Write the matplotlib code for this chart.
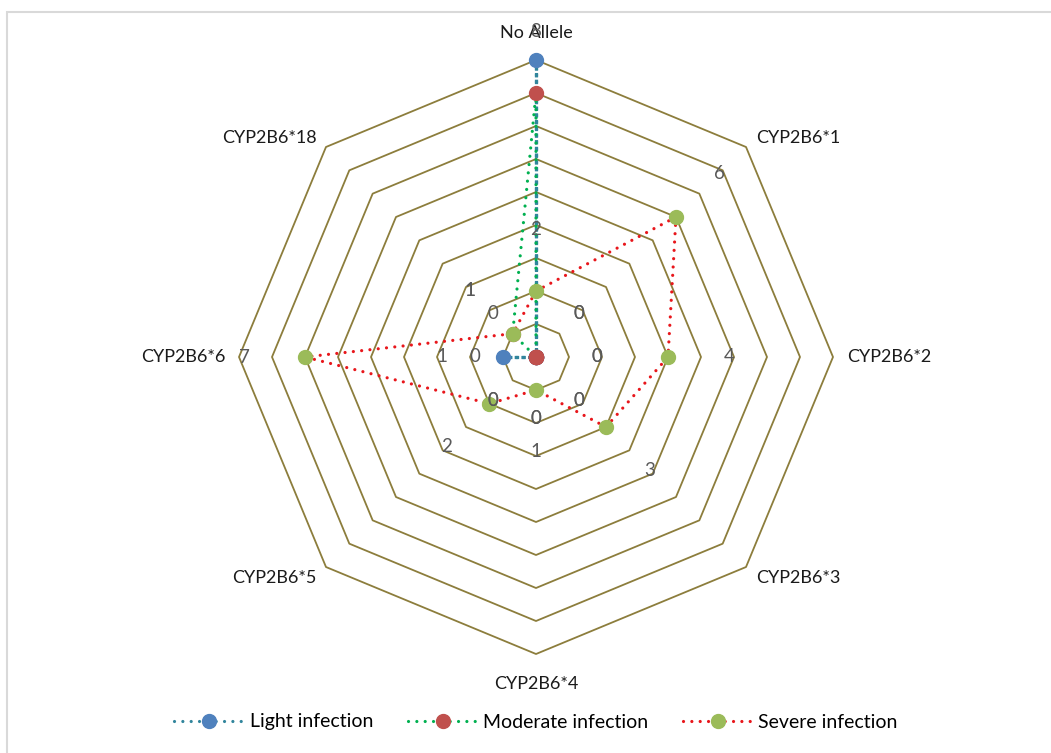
import numpy as np
import matplotlib.pyplot as plt
from matplotlib.lines import Line2D
from matplotlib.patches import Rectangle

plt.rcParams['font.family'] = ['Lato', 'DejaVu Sans']

categories = ["No Allele", "CYP2B6*1", "CYP2B6*2", "CYP2B6*3",
              "CYP2B6*4", "CYP2B6*5", "CYP2B6*6", "CYP2B6*18"]
light = [9, 0, 0, 0, 0, 0, 1, 0]
moderate = [8, 0, 0, 0, 0, 0, 0, 1]
severe = [2, 6, 4, 3, 1, 2, 7, 1]
series_names = ["Light infection", "Moderate infection", "Severe infection"]
rings = list(range(1, 10))

line_colors = ["#31859C", "#00B050", "#E8161B"]
marker_colors = ["#4F81BD", "#C0504D", "#9BBB59"]
grid_color = "#8C7D3C"
label_gray = "#595959"

W, H = 1051, 753
fig = plt.figure(figsize=(W / 100, H / 100), dpi=100)

# outer chart frame; anything beyond it is hidden
frame = Rectangle((7 / W, -0.1), 1.2, 1 - 12 / H + 0.1,
                  transform=fig.transFigure, fill=False,
                  edgecolor="#D9D9D9", linewidth=1.5)
fig.patches.append(frame)
inside = Rectangle((8 / W, 0), 1, 1 - 13 / H, transform=fig.transFigure)

cx, cy, R = 536, 357, 297
ax = fig.add_axes([(cx - R) / W, (H - cy - R) / H, 2 * R / W, 2 * R / H],
                  projection='polar')
ax.set_theta_zero_location('N')
ax.set_theta_direction(-1)
ax.set_ylim(0, 9)
ax.grid(False)
ax.set_xticks([])
ax.set_yticks([])
ax.spines['polar'].set_visible(False)
ax.patch.set_visible(False)

n = len(categories)
theta = np.arange(n) * 2 * np.pi / n
closed = np.append(theta, theta[0])

# octagonal grid rings
for r in rings:
    ax.plot(closed, [r] * (n + 1), color=grid_color, lw=1.3, zorder=1,
            clip_on=False)

all_series = [light, moderate, severe]
styles = [((0, (1.1, 1.0)), 'butt'), ((0, (0.01, 2.6)), 'round'),
          ((0, (0.01, 2.6)), 'round')]
for vals, lc, mc, (ls, cap), name in zip(all_series, line_colors,
                                         marker_colors, styles, series_names):
    v = np.append(vals, vals[0])
    ax.plot(closed, v, color=lc, lw=2.3, linestyle=ls,
            dash_capstyle=cap, zorder=3, clip_on=False)
    ax.plot(theta, vals, linestyle='none', marker='o', ms=10,
            markerfacecolor=mc, markeredgecolor=mc, zorder=4, clip_on=False)

# data labels, pushed outward along each spoke
for vals in all_series:
    for t, val in zip(theta, vals):
        txt = ax.text(t, val + 1.85, str(val), color=label_gray,
                      fontsize=13.5, ha='center', va='center', zorder=5,
                      clip_on=True)
        txt.set_clip_path(inside)

# category labels around the outer ring
offsets = [(0, 13.5, 'center', 'bottom'), (7, 1, 'left', 'bottom'),
           (10, 0, 'left', 'center'), (7, -2, 'left', 'top'),
           (0, -16, 'center', 'top'), (-7, -2, 'right', 'top'),
           (-10, 0, 'right', 'center'), (-7, 1, 'right', 'bottom')]
for t, name, (dx, dy, ha, va) in zip(theta, categories, offsets):
    ax.annotate(name, xy=(t, 9), xytext=(dx, dy), textcoords='offset points',
                ha=ha, va=va, fontsize=13, color='#1A1A1A')

handles = [Line2D([], [], color=lc, lw=2.3, linestyle=(0, (0.01, 2.6)),
                  dash_capstyle='round', marker='o', ms=10,
                  markerfacecolor=mc, markeredgecolor=mc)
           for lc, mc in zip(line_colors, marker_colors)]
fig.legend(handles, series_names, loc='center', ncol=3,
           bbox_to_anchor=(0.51, 1 - 722 / H), frameon=False, fontsize=14,
           handlelength=3.6, handletextpad=0.3, columnspacing=1.75,
           numpoints=1)

fig.savefig('out.png', dpi=100)
